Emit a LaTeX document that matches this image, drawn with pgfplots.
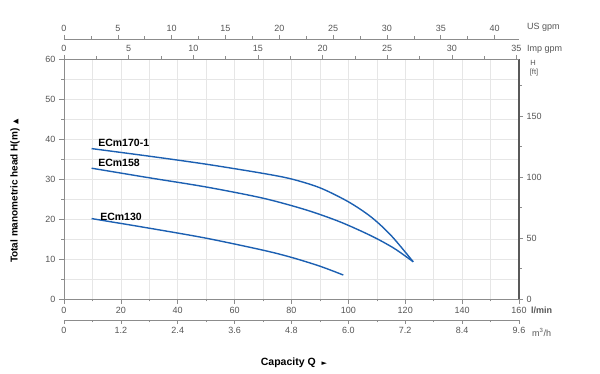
\documentclass[border=0pt]{standalone}
\usepackage{fontspec}
\setmainfont{Liberation Sans}
\newfontfamily\symfont{DejaVu Sans}
\usepackage{pgfplots}
\pgfplotsset{compat=1.18}
\definecolor{curve}{RGB}{28,96,178}
\definecolor{txt}{RGB}{85,85,85}
\definecolor{axl}{RGB}{140,140,140}
\definecolor{gridc}{RGB}{230,230,230}
\pgfplotsset{
  base/.style={scale only axis, width=455pt, height=240pt, anchor=south west,
    tick align=outside, major tick length=4pt, minor tick length=2.5pt,
    tick style={axl, line width=0.6pt},
    axis line style={axl, line width=0.9pt},
    ticklabel style={font=\fontsize{9}{10}\selectfont, text=txt, /pgf/number format/assume math mode=true},
    clip=false},
}
\begin{document}
\begin{tikzpicture}
\path[use as bounding box] (-64pt,-75pt) rectangle (536pt,299pt);
% main axis: l/min and m
\begin{axis}[base, at={(0pt,0pt)},
  xmin=0, xmax=160, ymin=0, ymax=60,
  axis x line*=bottom, axis y line*=left,
  xtick={0,20,...,160}, minor xtick={10,30,...,150},
  ytick={0,10,...,60}, minor ytick={5,15,...,55},
  major tick length=5pt,
  grid=both, major grid style={gridc, line width=0.6pt}, minor grid style={gridc, line width=0.6pt},
]
\addplot[curve, line width=1.4pt, smooth] coordinates {
 (9.7,37.6) (30,35.7) (50,33.7) (70,31.4) (80,30.0) (90,27.8) (100,24.3) (108,20.5) (115,15.9) (122.8,9.3)};
\addplot[curve, line width=1.4pt, smooth] coordinates {
 (9.7,32.7) (30,30.3) (50,28.0) (70,25.2) (85,22.3) (97,19.3) (108,15.8) (116,12.7) (122.8,9.3)};
\addplot[curve, line width=1.4pt, smooth] coordinates {
 (9.7,20.1) (30,17.7) (50,15.2) (70,12.2) (80,10.4) (90,8.2) (98.2,6.0)};
\node[anchor=west, font=\bfseries\fontsize{10.5}{12}\selectfont, inner sep=0pt] at (axis cs:12,39) {ECm170-1};
\node[anchor=west, font=\bfseries\fontsize{10.5}{12}\selectfont, inner sep=0pt] at (axis cs:12,34) {ECm158};
\node[anchor=west, font=\bfseries\fontsize{10.5}{12}\selectfont, inner sep=0pt] at (axis cs:12.7,20.6) {ECm130};
\end{axis}
% right axis: ft
\begin{axis}[base, at={(0pt,0pt)},
  xmin=0, xmax=160, ymin=0, ymax=196.85,
  axis x line=none, axis y line*=right,
  ytick={0,50,100,150}, minor ytick={25,75,125,175},
  axis line style={black!65, line width=1.5pt},
]
\end{axis}
% top: Imp gpm
\begin{axis}[base, at={(0pt,0pt)},
  xmin=0, xmax=35.195, ymin=0, ymax=1,
  axis y line=none, axis x line*=top,
  xtick={0,5,...,35}, minor xtick={2.5,7.5,...,32.5},
]
\end{axis}
% top: US gpm
\begin{axis}[base, at={(0pt,20pt)},
  xmin=0, xmax=42.268, ymin=0, ymax=1,
  axis y line=none, axis x line*=top,
  xtick={0,5,...,40}, minor xtick={2.5,7.5,...,37.5},
]
\end{axis}
% bottom: m3/h
\begin{axis}[base, at={(0pt,-21pt)},
  xmin=0, xmax=9.6, ymin=0, ymax=1,
  axis y line=none, axis x line*=bottom,
  xtick={0,1.2,2.4,3.6,4.8,6,7.2,8.4,9.6},
  xticklabels={0,1.2,2.4,3.6,4.8,6.0,7.2,8.4,9.6},
  minor xtick={0.6,1.8,3.0,4.2,5.4,6.6,7.8,9.0},
]
\end{axis}
% unit labels
\node[anchor=west, font=\fontsize{9}{10}\selectfont, text=txt, inner sep=0pt] at (463pt,272pt) {US gpm};
\node[anchor=west, font=\fontsize{9}{10}\selectfont, text=txt, inner sep=0pt] at (463pt,250pt) {Imp gpm};
\node[anchor=west, font=\bfseries\fontsize{9}{10}\selectfont, text=txt, inner sep=0pt] at (467pt,-11.7pt) {l/min};
\node[anchor=west, font=\fontsize{9}{10}\selectfont, text=txt, inner sep=0pt] at (468pt,-33.7pt) {m\textsuperscript{3}/h};
\node[font=\fontsize{7.5}{8}\selectfont, text=txt, inner sep=0pt] at (469pt,236pt) {H};
\node[font=\fontsize{7.5}{8}\selectfont, text=txt, inner sep=0pt] at (470pt,226pt) {[ft]};
\node[rotate=90, font=\bfseries\fontsize{10}{12}\selectfont, inner sep=0pt] at (-49pt,108pt) {Total manometric head H(m)\hspace{4pt}{\symfont\fontsize{7}{8}\selectfont ▲}};
\node[font=\bfseries\fontsize{10.5}{12}\selectfont, inner sep=0pt] at (230pt,-64pt) {Capacity Q\hspace{6pt}{\symfont\fontsize{7}{8}\selectfont ►}};
\end{tikzpicture}
\end{document}
